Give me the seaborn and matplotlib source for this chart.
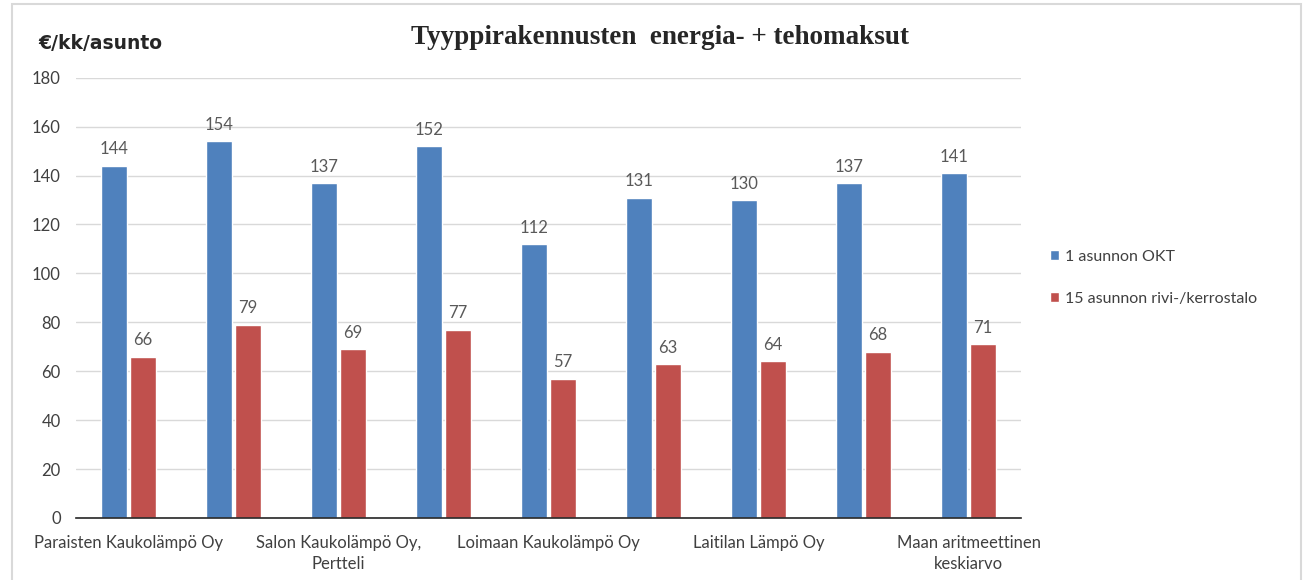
import pandas as pd
import matplotlib.pyplot as plt
import matplotlib.patches as mpatches
import seaborn as sns

# Values
companies = [
    "Paraisten Kaukolämpö Oy",
    "Yhtiö 2",
    "Salon Kaukolämpö Oy,\nPertteli",
    "Yhtiö 4",
    "Loimaan Kaukolämpö Oy",
    "Yhtiö 6",
    "Laitilan Lämpö Oy",
    "Yhtiö 8",
    "Maan aritmeettinen\nkeskiarvo",
]
# Excel skipped every other label for lack of room
tick_labels = [c if i % 2 == 0 else "" for i, c in enumerate(companies)]
okt = [144, 154, 137, 152, 112, 131, 130, 137, 141]
rivi = [66, 79, 69, 77, 57, 63, 64, 68, 71]
series = ["1 asunnon OKT", "15 asunnon rivi-/kerrostalo"]
colors = ["#4f81bd", "#c0504d"]

df = pd.DataFrame({
    "yhtio": companies * 2,
    "sarja": [series[0]] * len(okt) + [series[1]] * len(rivi),
    "arvo": okt + rivi,
})

sns.set_style("white")
plt.rcParams["font.family"] = ["Lato", "DejaVu Sans"]

fig = plt.figure(figsize=(13.06, 5.8), dpi=100)
ax = fig.add_axes([0.0582, 0.107, 0.7236, 0.759])

sns.barplot(data=df, x="yhtio", y="arvo", hue="sarja", palette=colors,
            saturation=1, width=0.55, gap=0.1, ax=ax, legend=True)

for cont in ax.containers:
    ax.bar_label(cont, padding=6, fontsize=12, color="#595959")

ax.set_ylim(0, 180)
ax.set_yticks(range(0, 181, 20))
ax.yaxis.grid(True, color="#d9d9d9", linewidth=1)
ax.set_axisbelow(True)
for s in ["left", "right", "top"]:
    ax.spines[s].set_visible(False)
ax.spines["bottom"].set_color("#262626")
ax.spines["bottom"].set_linewidth(1.2)
ax.tick_params(axis="y", length=0, labelsize=12, colors="#404040", pad=11)
ax.tick_params(axis="x", length=0, labelsize=12, colors="#404040", pad=12)
ax.set_xticks(range(len(companies)))
ax.set_xticklabels(tick_labels, linespacing=1.45)
ax.set_xlabel("")
ax.set_ylabel("")

leg = ax.legend(loc="center left", bbox_to_anchor=(1.015, 0.545), frameon=False,
                fontsize=11.5, handlelength=0.6, handleheight=0.6,
                handletextpad=0.35, labelspacing=1.75, labelcolor="#404040")

fig.text(0.505, 0.935, "Tyyppirakennusten  energia- + tehomaksut",
         ha="center", va="center", fontsize=19.5, fontweight="bold",
         family="Liberation Serif")
fig.text(0.029, 0.925, "€/kk/asunto", ha="left", va="center", fontsize=13.5,
         fontweight="bold", family="DejaVu Sans")

frame = mpatches.Rectangle((0.009, -0.01), 0.987, 1.003, transform=fig.transFigure,
                           fill=False, edgecolor="#d9d9d9", linewidth=1.5)
fig.patches.append(frame)

fig.savefig("out.png", dpi=100)
